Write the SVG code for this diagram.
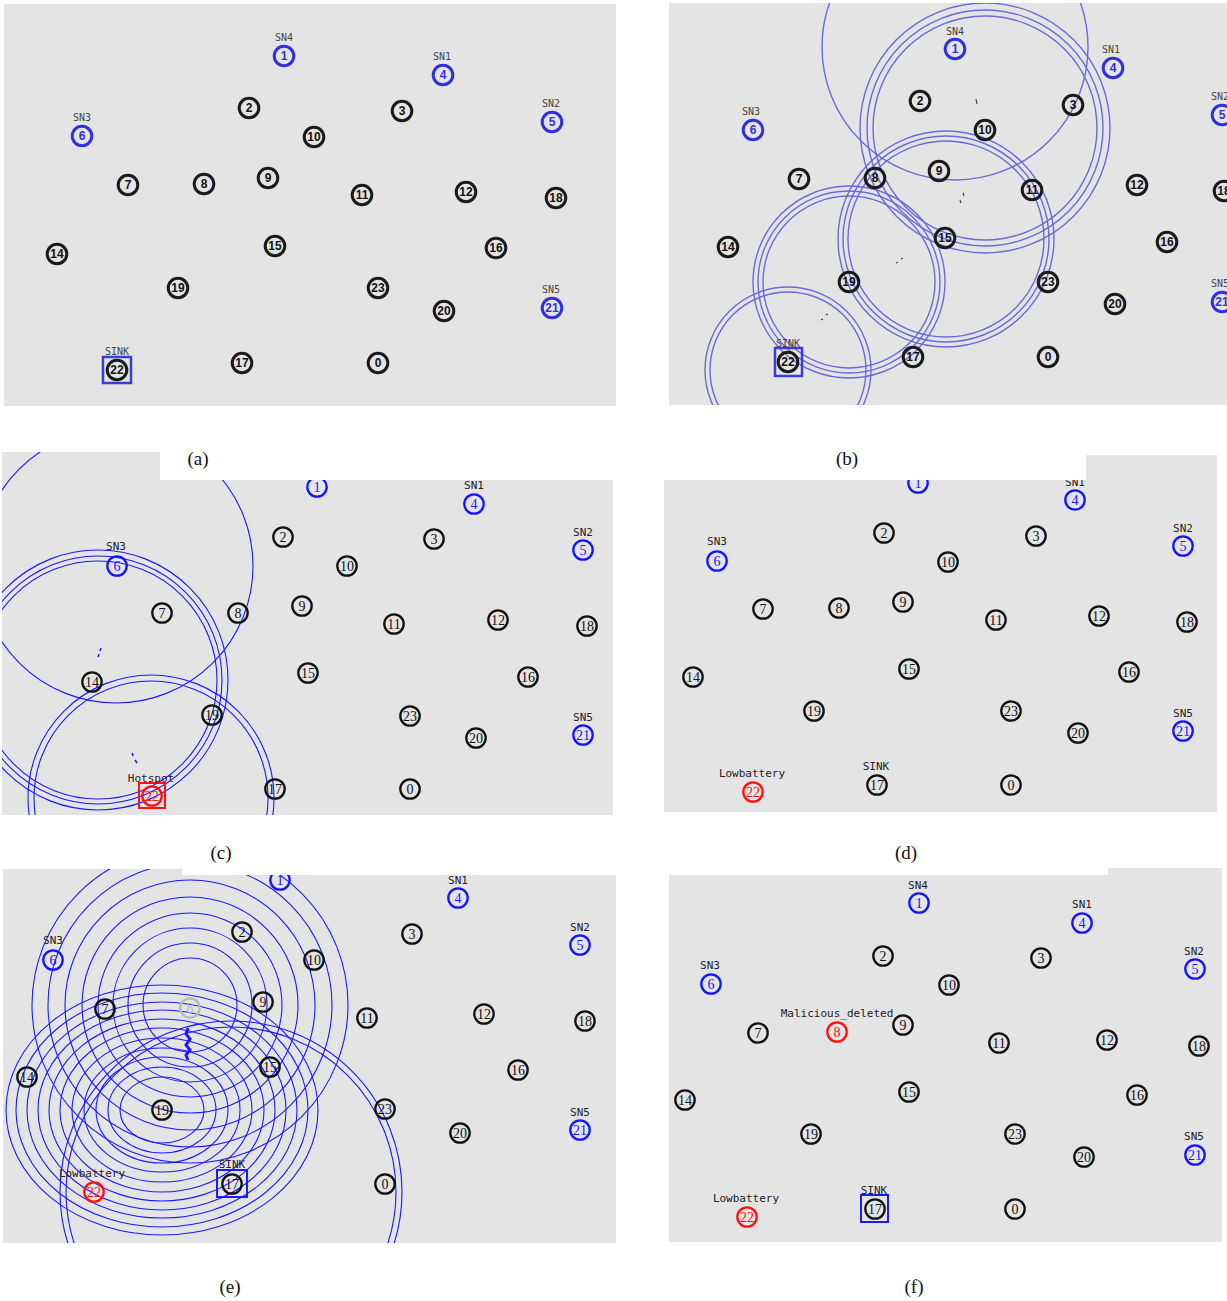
<svg xmlns="http://www.w3.org/2000/svg" width="1227" height="1301" viewBox="0 0 1227 1301">
<style>
.bg{fill:#e4e4e4}
.n circle{fill:none;stroke:#111;stroke-width:2.3}
.n text{font-family:'Liberation Serif',serif;font-size:14px;fill:#111;text-anchor:middle;dominant-baseline:central}
.old circle{stroke:#1a1a1a;stroke-width:3}
.old text{font-family:'Liberation Sans',sans-serif;font-size:12px;font-weight:bold}
.b circle{stroke:#1414ff}.b text{fill:#1414ff}
.old.b circle{stroke:#3030e0}.old.b text{fill:#3030e0}
.r circle{stroke:#ff1010}.r text{fill:#ff1010}
.f circle{stroke:#b8b8b8}.f text{fill:#b8b8b8}
.lbl{font-family:'DejaVu Sans Mono','Liberation Mono',monospace;font-size:11px;fill:#222;text-anchor:middle}
.sm{font-size:10px;fill:#444}
.ring{fill:none;stroke:#1a1aff;stroke-width:1.1}
.ringb{fill:none;stroke:#6a6ad8;stroke-width:1.4}
.sq{fill:none;stroke:#1a1aff;stroke-width:2}
.sqo{fill:none;stroke:#3b3be0;stroke-width:2.5}
.sqr{fill:none;stroke:#ff1010;stroke-width:2}
.pk{fill:none;stroke:#1a1aff;stroke-width:1.5}
.cap{font-family:'Liberation Serif',serif;font-size:19px;fill:#111;text-anchor:middle}
</style>
<defs>
<clipPath id="cA"><rect x="4" y="4" width="612" height="402"/></clipPath>
<clipPath id="cB"><rect x="669" y="3" width="558" height="402"/></clipPath>
<clipPath id="cC"><polygon points="2,452 160,452 160,480 613,480 613,815 2,815"/></clipPath>
<clipPath id="cD"><polygon points="664,480 1086,480 1086,455 1217,455 1217,812 664,812"/></clipPath>
<clipPath id="cE"><polygon points="3,869 182,869 182,875 616,875 616,1243 3,1243"/></clipPath>
<clipPath id="cF"><polygon points="669,875 1108,875 1108,868 1222,868 1222,1242 669,1242"/></clipPath>
</defs>

<!-- Panel (a) -->
<g id="panel-a" clip-path="url(#cA)">
<rect class="bg" x="4" y="4" width="612" height="402"/>
<g id="a-n0" class="n old" transform="translate(378,363)"><circle r="9.8"/><text>0</text></g>
<g id="a-n1" class="n old b" transform="translate(284,56)"><circle r="9.8"/><text>1</text></g>
<g id="a-n2" class="n old" transform="translate(249,108)"><circle r="9.8"/><text>2</text></g>
<g id="a-n3" class="n old" transform="translate(402,111)"><circle r="9.8"/><text>3</text></g>
<g id="a-n4" class="n old b" transform="translate(443,75)"><circle r="9.8"/><text>4</text></g>
<g id="a-n5" class="n old b" transform="translate(552,122)"><circle r="9.8"/><text>5</text></g>
<g id="a-n6" class="n old b" transform="translate(82,136)"><circle r="9.8"/><text>6</text></g>
<g id="a-n7" class="n old" transform="translate(128,185)"><circle r="9.8"/><text>7</text></g>
<g id="a-n8" class="n old" transform="translate(204,184)"><circle r="9.8"/><text>8</text></g>
<g id="a-n9" class="n old" transform="translate(268,178)"><circle r="9.8"/><text>9</text></g>
<g id="a-n10" class="n old" transform="translate(314,137)"><circle r="9.8"/><text>10</text></g>
<g id="a-n11" class="n old" transform="translate(362,195)"><circle r="9.8"/><text>11</text></g>
<g id="a-n12" class="n old" transform="translate(466,192)"><circle r="9.8"/><text>12</text></g>
<g id="a-n14" class="n old" transform="translate(57,254)"><circle r="9.8"/><text>14</text></g>
<g id="a-n15" class="n old" transform="translate(275,246)"><circle r="9.8"/><text>15</text></g>
<g id="a-n16" class="n old" transform="translate(496,248)"><circle r="9.8"/><text>16</text></g>
<g id="a-n17" class="n old" transform="translate(242,363)"><circle r="9.8"/><text>17</text></g>
<g id="a-n18" class="n old" transform="translate(556,198)"><circle r="9.8"/><text>18</text></g>
<g id="a-n19" class="n old" transform="translate(178,288)"><circle r="9.8"/><text>19</text></g>
<g id="a-n20" class="n old" transform="translate(444,311)"><circle r="9.8"/><text>20</text></g>
<g id="a-n21" class="n old b" transform="translate(552,308)"><circle r="9.8"/><text>21</text></g>
<g id="a-n22" class="n old" transform="translate(117,370)"><rect class="sqo" x="-14" y="-13" width="28" height="26"/><circle r="9.8"/><text>22</text></g>
<g id="a-n23" class="n old" transform="translate(378,288)"><circle r="9.8"/><text>23</text></g>
<g id="a-labels">
<text class="lbl sm" x="284" y="41">SN4</text>
<text class="lbl sm" x="442" y="60">SN1</text>
<text class="lbl sm" x="551" y="107">SN2</text>
<text class="lbl sm" x="82" y="121">SN3</text>
<text class="lbl sm" x="551" y="293">SN5</text>
<text class="lbl sm" x="117" y="355">SINK</text>
</g>
</g>

<!-- Panel (b) -->
<g id="panel-b" clip-path="url(#cB)">
<rect class="bg" x="669" y="3" width="558" height="402"/>
<g id="b-rings">
<circle class="ringb" cx="955" cy="47" r="133"/>
<circle class="ringb" cx="985" cy="128" r="112"/>
<circle class="ringb" cx="985" cy="128" r="118"/>
<circle class="ringb" cx="985" cy="128" r="125"/>
<circle class="ringb" cx="946" cy="239" r="98"/>
<circle class="ringb" cx="946" cy="239" r="103"/>
<circle class="ringb" cx="946" cy="239" r="108"/>
<circle class="ringb" cx="849" cy="282" r="86"/>
<circle class="ringb" cx="849" cy="282" r="91"/>
<circle class="ringb" cx="849" cy="282" r="96"/>
<circle class="ringb" cx="788" cy="370" r="78"/>
<circle class="ringb" cx="788" cy="370" r="83"/>
</g>
<g id="b-packets" stroke="#444" stroke-width="1.2">
<line x1="976" y1="99" x2="977" y2="104"/>
<line x1="963" y1="193" x2="964" y2="196"/>
<line x1="960" y1="200" x2="961" y2="203"/>
<line x1="896" y1="263" x2="898" y2="262"/>
<line x1="901" y1="259" x2="903" y2="258"/>
<line x1="821" y1="320" x2="823" y2="319"/>
<line x1="826" y1="315" x2="828" y2="314"/>
</g>
<g id="b-n0" class="n old" transform="translate(1048,357)"><circle r="9.8"/><text>0</text></g>
<g id="b-n1" class="n old b" transform="translate(955,49)"><circle r="9.8"/><text>1</text></g>
<g id="b-n2" class="n old" transform="translate(920,101)"><circle r="9.8"/><text>2</text></g>
<g id="b-n3" class="n old" transform="translate(1073,105)"><circle r="9.8"/><text>3</text></g>
<g id="b-n4" class="n old b" transform="translate(1113,68)"><circle r="9.8"/><text>4</text></g>
<g id="b-n5" class="n old b" transform="translate(1222,115)"><circle r="9.8"/><text>5</text></g>
<g id="b-n6" class="n old b" transform="translate(753,130)"><circle r="9.8"/><text>6</text></g>
<g id="b-n7" class="n old" transform="translate(799,179)"><circle r="9.8"/><text>7</text></g>
<g id="b-n8" class="n old" transform="translate(875,178)"><circle r="9.8"/><text>8</text></g>
<g id="b-n9" class="n old" transform="translate(939,171)"><circle r="9.8"/><text>9</text></g>
<g id="b-n10" class="n old" transform="translate(985,130)"><circle r="9.8"/><text>10</text></g>
<g id="b-n11" class="n old" transform="translate(1032,190)"><circle r="9.8"/><text>11</text></g>
<g id="b-n12" class="n old" transform="translate(1137,185)"><circle r="9.8"/><text>12</text></g>
<g id="b-n14" class="n old" transform="translate(728,247)"><circle r="9.8"/><text>14</text></g>
<g id="b-n15" class="n old" transform="translate(945,238)"><circle r="9.8"/><text>15</text></g>
<g id="b-n16" class="n old" transform="translate(1167,242)"><circle r="9.8"/><text>16</text></g>
<g id="b-n17" class="n old" transform="translate(913,357)"><circle r="9.8"/><text>17</text></g>
<g id="b-n18" class="n old" transform="translate(1224,191)"><circle r="9.8"/><text>18</text></g>
<g id="b-n19" class="n old" transform="translate(849,282)"><circle r="9.8"/><text>19</text></g>
<g id="b-n20" class="n old" transform="translate(1115,304)"><circle r="9.8"/><text>20</text></g>
<g id="b-n21" class="n old b" transform="translate(1222,302)"><circle r="9.8"/><text>21</text></g>
<g id="b-n22" class="n old" transform="translate(788,362)"><rect class="sqo" x="-13" y="-14" width="27" height="28"/><circle r="9.8"/><text>22</text></g>
<g id="b-n23" class="n old" transform="translate(1048,282)"><circle r="9.8"/><text>23</text></g>
<g id="b-labels">
<text class="lbl sm" x="955" y="35">SN4</text>
<text class="lbl sm" x="1111" y="53">SN1</text>
<text class="lbl sm" x="1220" y="100">SN2</text>
<text class="lbl sm" x="751" y="115">SN3</text>
<text class="lbl sm" x="1220" y="287">SN5</text>
<text class="lbl sm" x="788" y="347">SINK</text>
</g>
</g>

<!-- Panel (c) -->
<g id="panel-c" clip-path="url(#cC)">
<rect class="bg" x="2" y="452" width="611" height="363"/>
<g id="c-rings">
<circle class="ring" cx="116" cy="566" r="137"/>
<circle class="ring" cx="98" cy="680" r="119"/>
<circle class="ring" cx="98" cy="680" r="124"/>
<circle class="ring" cx="98" cy="680" r="130"/>
<circle class="ring" cx="151" cy="798" r="117"/>
<circle class="ring" cx="151" cy="798" r="123"/>
</g>
<g id="c-packets" class="pk">
<line x1="101" y1="648" x2="100" y2="651"/>
<line x1="99" y1="654" x2="98" y2="657"/>
<line x1="132" y1="753" x2="133" y2="756"/>
<line x1="135" y1="760" x2="137" y2="763"/>
</g>
<g id="c-n0" class="n" transform="translate(410,789)"><circle r="9.7"/><text>0</text></g>
<g id="c-n1" class="n b" transform="translate(317,487)"><circle r="9.7"/><text>1</text></g>
<g id="c-n2" class="n" transform="translate(283,537)"><circle r="9.7"/><text>2</text></g>
<g id="c-n3" class="n" transform="translate(434,539)"><circle r="9.7"/><text>3</text></g>
<g id="c-n4" class="n b" transform="translate(474,504)"><circle r="9.7"/><text>4</text></g>
<g id="c-n5" class="n b" transform="translate(583,550)"><circle r="9.7"/><text>5</text></g>
<g id="c-n6" class="n b" transform="translate(117,566)"><circle r="9.7"/><text>6</text></g>
<g id="c-n7" class="n" transform="translate(162,613)"><circle r="9.7"/><text>7</text></g>
<g id="c-n8" class="n" transform="translate(238,613)"><circle r="9.7"/><text>8</text></g>
<g id="c-n9" class="n" transform="translate(302,606)"><circle r="9.7"/><text>9</text></g>
<g id="c-n10" class="n" transform="translate(347,566)"><circle r="9.7"/><text>10</text></g>
<g id="c-n11" class="n" transform="translate(394,624)"><circle r="9.7"/><text>11</text></g>
<g id="c-n12" class="n" transform="translate(498,620)"><circle r="9.7"/><text>12</text></g>
<g id="c-n14" class="n" transform="translate(92,682)"><circle r="9.7"/><text>14</text></g>
<g id="c-n15" class="n" transform="translate(308,673)"><circle r="9.7"/><text>15</text></g>
<g id="c-n16" class="n" transform="translate(528,677)"><circle r="9.7"/><text>16</text></g>
<g id="c-n17" class="n" transform="translate(275,789)"><circle r="9.7"/><text>17</text></g>
<g id="c-n18" class="n" transform="translate(587,626)"><circle r="9.7"/><text>18</text></g>
<g id="c-n19" class="n" transform="translate(212,715)"><circle r="9.7"/><text>19</text></g>
<g id="c-n20" class="n" transform="translate(476,738)"><circle r="9.7"/><text>20</text></g>
<g id="c-n21" class="n b" transform="translate(583,735)"><circle r="9.7"/><text>21</text></g>
<g id="c-n22" class="n r" transform="translate(152,796)"><rect class="sqr" x="-13" y="-13" width="26" height="25"/><circle r="9.7"/><text>22</text></g>
<g id="c-n23" class="n" transform="translate(410,716)"><circle r="9.7"/><text>23</text></g>
<g id="c-labels">
<text class="lbl" x="474" y="489">SN1</text>
<text class="lbl" x="583" y="536">SN2</text>
<text class="lbl" x="116" y="550">SN3</text>
<text class="lbl" x="583" y="721">SN5</text>
<text class="lbl" x="151" y="782">Hotspot</text>
</g>
</g>

<!-- Panel (d) -->
<g id="panel-d" clip-path="url(#cD)">
<rect class="bg" x="664" y="455" width="553" height="357"/>
<g id="d-n0" class="n" transform="translate(1011,785)"><circle r="9.7"/><text>0</text></g>
<g id="d-n1" class="n b" transform="translate(918,483)"><circle r="9.7"/><text>1</text></g>
<g id="d-n2" class="n" transform="translate(884,533)"><circle r="9.7"/><text>2</text></g>
<g id="d-n3" class="n" transform="translate(1036,536)"><circle r="9.7"/><text>3</text></g>
<g id="d-n4" class="n b" transform="translate(1075,500)"><circle r="9.7"/><text>4</text></g>
<g id="d-n5" class="n b" transform="translate(1183,546)"><circle r="9.7"/><text>5</text></g>
<g id="d-n6" class="n b" transform="translate(717,561)"><circle r="9.7"/><text>6</text></g>
<g id="d-n7" class="n" transform="translate(763,609)"><circle r="9.7"/><text>7</text></g>
<g id="d-n8" class="n" transform="translate(839,608)"><circle r="9.7"/><text>8</text></g>
<g id="d-n9" class="n" transform="translate(903,602)"><circle r="9.7"/><text>9</text></g>
<g id="d-n10" class="n" transform="translate(948,562)"><circle r="9.7"/><text>10</text></g>
<g id="d-n11" class="n" transform="translate(996,620)"><circle r="9.7"/><text>11</text></g>
<g id="d-n12" class="n" transform="translate(1099,616)"><circle r="9.7"/><text>12</text></g>
<g id="d-n14" class="n" transform="translate(693,677)"><circle r="9.7"/><text>14</text></g>
<g id="d-n15" class="n" transform="translate(909,669)"><circle r="9.7"/><text>15</text></g>
<g id="d-n16" class="n" transform="translate(1129,672)"><circle r="9.7"/><text>16</text></g>
<g id="d-n17" class="n" transform="translate(877,785)"><circle r="9.7"/><text>17</text></g>
<g id="d-n18" class="n" transform="translate(1187,622)"><circle r="9.7"/><text>18</text></g>
<g id="d-n19" class="n" transform="translate(814,711)"><circle r="9.7"/><text>19</text></g>
<g id="d-n20" class="n" transform="translate(1078,733)"><circle r="9.7"/><text>20</text></g>
<g id="d-n21" class="n b" transform="translate(1183,731)"><circle r="9.7"/><text>21</text></g>
<g id="d-n22" class="n r" transform="translate(753,792)"><circle r="9.7"/><text>22</text></g>
<g id="d-n23" class="n" transform="translate(1011,711)"><circle r="9.7"/><text>23</text></g>
<g id="d-labels">
<text class="lbl" x="1075" y="486">SN1</text>
<text class="lbl" x="1183" y="532">SN2</text>
<text class="lbl" x="717" y="545">SN3</text>
<text class="lbl" x="1183" y="717">SN5</text>
<text class="lbl" x="876" y="770">SINK</text>
<text class="lbl" x="752" y="777">Lowbattery</text>
</g>
</g>

<!-- Panel (e) -->
<g id="panel-e" clip-path="url(#cE)">
<rect class="bg" x="3" y="869" width="613" height="374"/>
<g id="e-rings">
<circle class="ring" cx="190" cy="1005" r="47"/>
<circle class="ring" cx="190" cy="1005" r="62"/>
<circle class="ring" cx="190" cy="1005" r="77"/>
<circle class="ring" cx="190" cy="1005" r="92"/>
<circle class="ring" cx="190" cy="1005" r="108"/>
<circle class="ring" cx="190" cy="1005" r="125"/>
<circle class="ring" cx="190" cy="1005" r="142"/>
<circle class="ring" cx="190" cy="1005" r="158"/>
<ellipse class="ring" cx="162" cy="1110" rx="42" ry="33"/>
<ellipse class="ring" cx="162" cy="1110" rx="54" ry="43"/>
<ellipse class="ring" cx="162" cy="1110" rx="66" ry="53"/>
<ellipse class="ring" cx="162" cy="1110" rx="78" ry="62"/>
<ellipse class="ring" cx="162" cy="1110" rx="90" ry="72"/>
<ellipse class="ring" cx="162" cy="1110" rx="102" ry="82"/>
<ellipse class="ring" cx="162" cy="1110" rx="113" ry="91"/>
<ellipse class="ring" cx="162" cy="1110" rx="124" ry="100"/>
<ellipse class="ring" cx="162" cy="1110" rx="135" ry="108"/>
<ellipse class="ring" cx="162" cy="1110" rx="146" ry="117"/>
<ellipse class="ring" cx="162" cy="1110" rx="156" ry="125"/>
<circle class="ring" cx="231" cy="1192" r="165"/>
<circle class="ring" cx="231" cy="1192" r="171"/>
</g>
<g id="e-packets">
<polyline points="188,1028 186,1034 190,1039 186,1045 190,1050 186,1055 188,1060" fill="none" stroke="#1a1aff" stroke-width="3"/>
</g>
<g id="e-n0" class="n" transform="translate(385,1184)"><circle r="9.7"/><text>0</text></g>
<g id="e-n1" class="n b" transform="translate(280,880)"><circle r="9.7"/><text>1</text></g>
<g id="e-n2" class="n" transform="translate(242,932)"><circle r="9.7"/><text>2</text></g>
<g id="e-n3" class="n" transform="translate(412,934)"><circle r="9.7"/><text>3</text></g>
<g id="e-n4" class="n b" transform="translate(458,898)"><circle r="9.7"/><text>4</text></g>
<g id="e-n5" class="n b" transform="translate(580,945)"><circle r="9.7"/><text>5</text></g>
<g id="e-n6" class="n b" transform="translate(53,960)"><circle r="9.7"/><text>6</text></g>
<g id="e-n7" class="n" transform="translate(105,1009)"><circle r="9.7"/><text>7</text></g>
<g id="e-n8" class="n f" transform="translate(190,1008)"><circle r="9.7"/><text>8</text></g>
<g id="e-n9" class="n" transform="translate(263,1002)"><circle r="9.7"/><text>9</text></g>
<g id="e-n10" class="n" transform="translate(314,960)"><circle r="9.7"/><text>10</text></g>
<g id="e-n11" class="n" transform="translate(367,1018)"><circle r="9.7"/><text>11</text></g>
<g id="e-n12" class="n" transform="translate(484,1014)"><circle r="9.7"/><text>12</text></g>
<g id="e-n14" class="n" transform="translate(27,1077)"><circle r="9.7"/><text>14</text></g>
<g id="e-n15" class="n" transform="translate(270,1067)"><circle r="9.7"/><text>15</text></g>
<g id="e-n16" class="n" transform="translate(518,1070)"><circle r="9.7"/><text>16</text></g>
<g id="e-n17" class="n" transform="translate(232,1184)"><rect class="sq" x="-15" y="-14" width="30" height="27"/><circle r="9.7"/><text>17</text></g>
<g id="e-n18" class="n" transform="translate(585,1021)"><circle r="9.7"/><text>18</text></g>
<g id="e-n19" class="n" transform="translate(162,1110)"><circle r="9.7"/><text>19</text></g>
<g id="e-n20" class="n" transform="translate(460,1133)"><circle r="9.7"/><text>20</text></g>
<g id="e-n21" class="n b" transform="translate(580,1130)"><circle r="9.7"/><text>21</text></g>
<g id="e-n22" class="n r" transform="translate(94,1192)"><circle r="9.7"/><text>22</text></g>
<g id="e-n23" class="n" transform="translate(385,1109)"><circle r="9.7"/><text>23</text></g>
<g id="e-labels">
<text class="lbl" x="458" y="884">SN1</text>
<text class="lbl" x="580" y="931">SN2</text>
<text class="lbl" x="53" y="944">SN3</text>
<text class="lbl" x="580" y="1116">SN5</text>
<text class="lbl" x="232" y="1168">SINK</text>
<text class="lbl" x="92" y="1177">Lowbattery</text>
</g>
</g>

<!-- Panel (f) -->
<g id="panel-f" clip-path="url(#cF)">
<rect class="bg" x="669" y="868" width="553" height="374"/>
<g id="f-n0" class="n" transform="translate(1015,1209)"><circle r="9.7"/><text>0</text></g>
<g id="f-n1" class="n b" transform="translate(919,903)"><circle r="9.7"/><text>1</text></g>
<g id="f-n2" class="n" transform="translate(883,956)"><circle r="9.7"/><text>2</text></g>
<g id="f-n3" class="n" transform="translate(1041,958)"><circle r="9.7"/><text>3</text></g>
<g id="f-n4" class="n b" transform="translate(1082,923)"><circle r="9.7"/><text>4</text></g>
<g id="f-n5" class="n b" transform="translate(1195,969)"><circle r="9.7"/><text>5</text></g>
<g id="f-n6" class="n b" transform="translate(711,984)"><circle r="9.7"/><text>6</text></g>
<g id="f-n7" class="n" transform="translate(758,1033)"><circle r="9.7"/><text>7</text></g>
<g id="f-n8" class="n r" transform="translate(837,1032)"><circle r="9.7"/><text>8</text></g>
<g id="f-n9" class="n" transform="translate(903,1025)"><circle r="9.7"/><text>9</text></g>
<g id="f-n10" class="n" transform="translate(949,985)"><circle r="9.7"/><text>10</text></g>
<g id="f-n11" class="n" transform="translate(999,1043)"><circle r="9.7"/><text>11</text></g>
<g id="f-n12" class="n" transform="translate(1107,1040)"><circle r="9.7"/><text>12</text></g>
<g id="f-n14" class="n" transform="translate(685,1100)"><circle r="9.7"/><text>14</text></g>
<g id="f-n15" class="n" transform="translate(909,1092)"><circle r="9.7"/><text>15</text></g>
<g id="f-n16" class="n" transform="translate(1137,1095)"><circle r="9.7"/><text>16</text></g>
<g id="f-n17" class="n" transform="translate(875,1209)"><rect class="sq" x="-14" y="-14" width="27" height="27"/><circle r="9.7"/><text>17</text></g>
<g id="f-n18" class="n" transform="translate(1199,1046)"><circle r="9.7"/><text>18</text></g>
<g id="f-n19" class="n" transform="translate(811,1134)"><circle r="9.7"/><text>19</text></g>
<g id="f-n20" class="n" transform="translate(1084,1157)"><circle r="9.7"/><text>20</text></g>
<g id="f-n21" class="n b" transform="translate(1195,1155)"><circle r="9.7"/><text>21</text></g>
<g id="f-n22" class="n r" transform="translate(747,1217)"><circle r="9.7"/><text>22</text></g>
<g id="f-n23" class="n" transform="translate(1015,1134)"><circle r="9.7"/><text>23</text></g>
<g id="f-labels">
<text class="lbl" x="918" y="889">SN4</text>
<text class="lbl" x="1082" y="908">SN1</text>
<text class="lbl" x="1194" y="955">SN2</text>
<text class="lbl" x="710" y="969">SN3</text>
<text class="lbl" x="1194" y="1140">SN5</text>
<text class="lbl" x="837" y="1017">Malicious_deleted</text>
<text class="lbl" x="874" y="1194">SINK</text>
<text class="lbl" x="746" y="1202">Lowbattery</text>
</g>
</g>

<g id="captions">
<text class="cap" x="198" y="465">(a)</text>
<text class="cap" x="847" y="465">(b)</text>
<text class="cap" x="221" y="859">(c)</text>
<text class="cap" x="906" y="859">(d)</text>
<text class="cap" x="230" y="1293">(e)</text>
<text class="cap" x="914" y="1293">(f)</text>
</g>
</svg>
